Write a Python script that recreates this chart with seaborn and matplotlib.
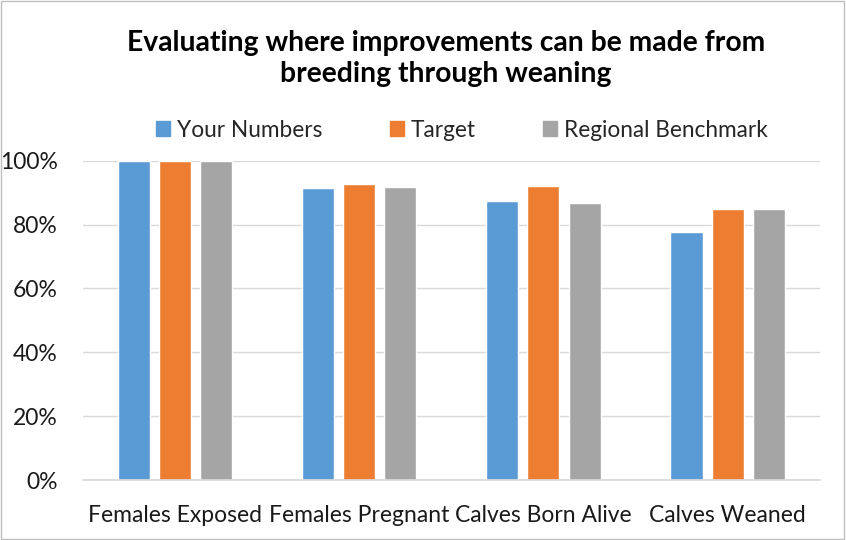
import matplotlib
matplotlib.use("Agg")
import matplotlib.pyplot as plt
import seaborn as sns
import pandas as pd
from matplotlib.ticker import PercentFormatter
from matplotlib.patches import Rectangle

categories = ["Females Exposed", "Females Pregnant", "Calves Born Alive", "Calves Weaned"]
series = ["Your Numbers", "Target", "Regional Benchmark"]
your_numbers = [100, 91.5, 87.4, 77.7]
target = [100, 92.7, 92.0, 85.0]
regional = [100, 91.8, 86.8, 85.0]
colors = ["#5B9BD5", "#ED7D31", "#A5A5A5"]

rows = []
for s, vals in zip(series, [your_numbers, target, regional]):
    for c, v in zip(categories, vals):
        rows.append({"Category": c, "Series": s, "Value": v / 100})
df = pd.DataFrame(rows)

sns.set_theme(style="white")
plt.rcParams["font.family"] = ["Lato", "DejaVu Sans"]

fig = plt.figure(figsize=(8.46, 5.4), dpi=100)
ax = fig.add_axes([0.098, 0.111, 0.871, 0.5914])
sns.barplot(data=df, x="Category", y="Value", hue="Series", palette=colors,
            width=0.67, gap=0.22, ax=ax, legend=False, errorbar=None,
            saturation=1)

ax.set_ylim(0, 1)
ax.set_xlim(-0.5, 3.5)
ax.set_yticks([0, 0.2, 0.4, 0.6, 0.8, 1.0])
ax.yaxis.set_major_formatter(PercentFormatter(1.0, decimals=0))
ax.grid(axis="y", color="#D9D9D9", linewidth=1)
ax.set_axisbelow(True)
for sp in ["top", "right", "left"]:
    ax.spines[sp].set_visible(False)
ax.spines["bottom"].set_color("#D9D9D9")
ax.set_xlabel("")
ax.set_ylabel("")
ax.tick_params(axis="both", length=0, labelsize=16.5, colors="#1a1a1a")
ax.tick_params(axis="x", pad=18)
ax.tick_params(axis="y", pad=18)

fig.text(0.527, 0.891, "Evaluating where improvements can be made from\nbreeding through weaning",
         ha="center", va="center", fontsize=20.3, fontweight="bold", color="#000000",
         linespacing=1.25)

handles = [Rectangle((0, 0), 1, 1, color=c) for c in colors]
fig.legend(handles, series, loc="center", bbox_to_anchor=(0.546, 0.759), ncol=3,
           frameon=False, fontsize=16.3, handlelength=0.6, handleheight=0.6,
           columnspacing=3.0, handletextpad=0.3)

fig.add_artist(Rectangle((0.001, 0.002), 0.997, 0.996, transform=fig.transFigure,
                         fill=False, edgecolor="#BFBFBF", linewidth=1))

fig.savefig("out.png", dpi=100, facecolor="white")
